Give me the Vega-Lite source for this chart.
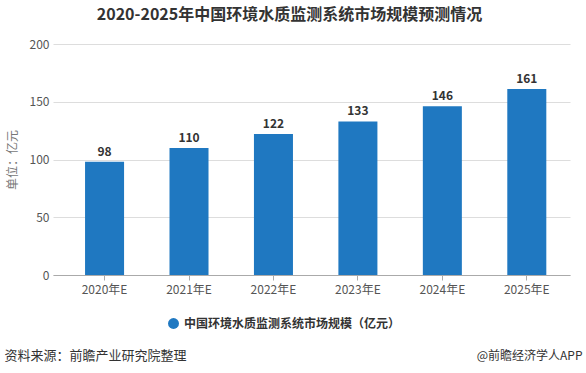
{
  "$schema": "https://vega.github.io/schema/vega-lite/v6.json",
  "width": 517,
  "height": 231,
  "autosize": {"type": "none"},
  "padding": {"left": 53, "top": 44, "right": 16, "bottom": 98},
  "background": "white",
  "title": {
    "text": "2020-2025年中国环境水质监测系统市场规模预测情况",
    "fontSize": 16,
    "fontWeight": "bold",
    "font": "Noto Sans CJK SC",
    "color": "#333333",
    "anchor": "middle",
    "frame": "group",
    "dx": -22,
    "offset": 15
  },
  "config": {
    "view": {"stroke": null},
    "font": "Noto Sans CJK SC"
  },
  "data": {
    "values": [
      {"year": "2020年E", "value": 98, "series": "中国环境水质监测系统市场规模（亿元）"},
      {"year": "2021年E", "value": 110, "series": "中国环境水质监测系统市场规模（亿元）"},
      {"year": "2022年E", "value": 122, "series": "中国环境水质监测系统市场规模（亿元）"},
      {"year": "2023年E", "value": 133, "series": "中国环境水质监测系统市场规模（亿元）"},
      {"year": "2024年E", "value": 146, "series": "中国环境水质监测系统市场规模（亿元）"},
      {"year": "2025年E", "value": 161, "series": "中国环境水质监测系统市场规模（亿元）"}
    ]
  },
  "encoding": {
    "x": {
      "field": "year",
      "type": "nominal",
      "sort": null,
      "scale": {"paddingInner": 0.538, "paddingOuter": 0.33, "align": 0.575},
      "axis": {
        "title": "资料来源：前瞻产业研究院整理",
        "titleFontSize": 13,
        "titleFontWeight": "normal",
        "titleColor": "#333333",
        "titleAnchor": "start",
        "titleAlign": "left",
        "titleBaseline": "middle",
        "titleX": -49,
        "titleY": 80,
        "labelAngle": 0,
        "labelFontSize": 12,
        "labelColor": "#555555",
        "labelPadding": 4,
        "domainColor": "#aaaaaa",
        "tickColor": "#aaaaaa",
        "tickSize": 5,
        "grid": false
      }
    }
  },
  "layer": [
    {
      "mark": {"type": "bar", "color": "#1f78c1"},
      "encoding": {
        "y": {
          "field": "value",
          "type": "quantitative",
          "scale": {"domain": [0, 200]},
          "axis": {
            "values": [0, 50, 100, 150, 200],
            "title": "单位：亿元",
            "titleFontSize": 12,
            "titleFontWeight": "normal",
            "titleColor": "#777777",
            "titlePadding": 10,
            "labelFontSize": 12,
            "labelColor": "#555555",
            "labelPadding": 4,
            "domain": false,
            "ticks": false,
            "gridColor": "#dddddd"
          }
        },
        "color": {
          "field": "series",
          "type": "nominal",
          "scale": {"range": ["#1f78c1"]},
          "legend": {
            "title": null,
            "orient": "none",
            "legendX": 114,
            "legendY": 273,
            "symbolType": "circle",
            "symbolSize": 120,
            "labelFontSize": 12,
            "labelLimit": 0,
            "labelColor": "#333333",
            "labelFontWeight": "bold"
          }
        }
      }
    },
    {
      "mark": {"type": "text", "dy": -10, "fontSize": 12, "fontWeight": "bold", "color": "#333333"},
      "encoding": {
        "y": {
          "field": "value",
          "type": "quantitative",
          "scale": {"domain": [0, 200]},
          "axis": {
            "orient": "right",
            "title": "@前瞻经济学人APP",
            "titleAngle": 0,
            "titleFontSize": 12,
            "titleFontWeight": "normal",
            "titleColor": "#333333",
            "titleAlign": "right",
            "titleBaseline": "middle",
            "titleX": 12,
            "titleY": 311,
            "labels": false,
            "ticks": false,
            "domain": false,
            "grid": false
          }
        },
        "text": {"field": "value", "type": "quantitative"}
      }
    }
  ],
  "resolve": {"scale": {"y": "independent"}, "axis": {"y": "independent"}}
}
